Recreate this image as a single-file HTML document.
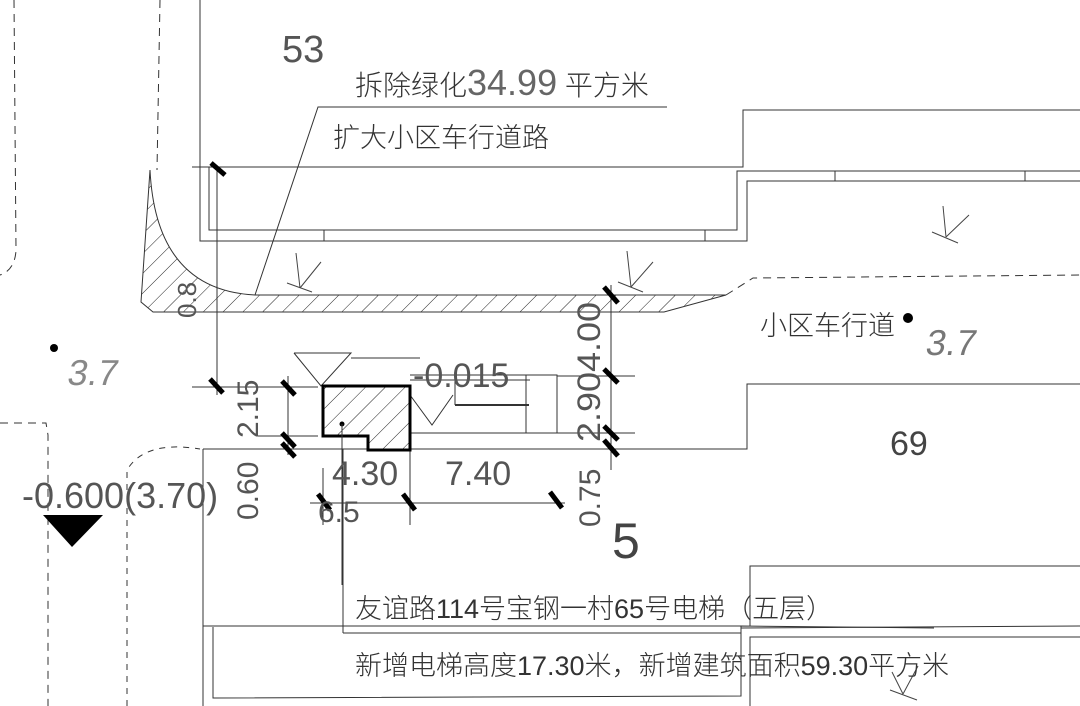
<!DOCTYPE html>
<html><head><meta charset="utf-8"><style>
html,body{margin:0;padding:0;background:#fff;width:1080px;height:706px;overflow:hidden}
svg text{font-family:"Liberation Sans","Noto Sans CJK SC",sans-serif;}
</style></head><body>
<svg width="1080" height="706" viewBox="0 0 1080 706" xmlns="http://www.w3.org/2000/svg">
<defs>
<pattern id="h" width="14" height="14" patternUnits="userSpaceOnUse" patternTransform="rotate(45)">
<line x1="0" y1="0" x2="0" y2="14" stroke="#222" stroke-width="1"/>
</pattern>
</defs>
<g fill="none" stroke="#333" stroke-width="1">
<!-- top building -->
<polyline points="200,0 200,241 747,241 747,181 1080,181"/>
<polyline points="209,167 209,230 737,230 737,171 1080,171"/>
<polyline points="192,167 743,167 743,110 1080,110"/>
<line x1="324" y1="230" x2="324" y2="241"/><line x1="705" y1="230" x2="705" y2="241"/>
<line x1="835" y1="171" x2="835" y2="181"/><line x1="1025" y1="171" x2="1025" y2="181"/>
<!-- leader -->
<polyline points="255,295 318,107 667,107"/>
<!-- curb -->
<path d="M150,170 Q156,290 255,295 L726,295 L664,312 L153,312 L141,302 L150,170 Z" fill="url(#h)"/>
<line x1="217" y1="167" x2="217" y2="395"/>
<!-- dashed lines -->
<path d="M160,0 L157,170" stroke-dasharray="8,6"/>
<path d="M14,0 L16,250 Q15,270 0,275" stroke-dasharray="8,6"/>
<path d="M726,295 L753,278 L1080,275" stroke-dasharray="8,6"/>
<path d="M0,423 L46,423 L48,435 L48,706" stroke-dasharray="8,6"/>
<path d="M127,706 L127,470 Q145,440 200,449" stroke-dasharray="6,6"/>
<!-- dimensions left -->
<line x1="192" y1="387" x2="318" y2="387"/><line x1="258" y1="436" x2="318" y2="436"/>
<line x1="288" y1="376" x2="288" y2="455"/>
<line x1="203" y1="449" x2="611" y2="449"/>
<polyline points="611,449 747,449 747,384 1080,384"/>
<polyline points="203,449 203,706"/>
<!-- triangle marker -->
<polyline points="294,353 351,353 321,386 294,353"/>
<line x1="351" y1="358" x2="420" y2="358"/>
<!-- right part of elevator -->
<polyline points="410,375 557,375 557,433 410,433"/>
<line x1="455" y1="375" x2="455" y2="405"/>
<line x1="526" y1="375" x2="526" y2="433"/>
<line x1="410" y1="380" x2="530" y2="380"/>
<polyline points="410,395 432,425 453,395"/>
<!-- right dim -->
<line x1="611" y1="285" x2="611" y2="470"/>
<line x1="557" y1="376" x2="635" y2="376"/><line x1="557" y1="433" x2="635" y2="433"/>
<!-- bottom dims -->
<line x1="310" y1="503" x2="565" y2="503"/>
<line x1="323" y1="468" x2="323" y2="525"/><line x1="410" y1="437" x2="410" y2="525"/>
<!-- lower building -->
<line x1="343" y1="449" x2="343" y2="633"/>
<polyline points="203,626 741,626"/>
<polyline points="343,633 741,633"/>
<polyline points="213,627 213,698 741,696 741,626 934,628"/>
<polyline points="750,706 750,637 1080,637"/>
<polyline points="750,626 750,566 1080,566"/>
<line x1="741" y1="628" x2="1080" y2="626"/>
<!-- grass marks -->
<g stroke="#444">
<path d="M287,283 L312,292 M300,288 L296,253 M300,288 L321,262"/>
<path d="M618,282 L643,292 M631,287 L627,251 M631,287 L653,262"/>
<path d="M932,232 L958,243 M946,237 L943,206 M946,237 L969,215"/>
<path d="M890,690 L917,700 M903,694 L892,672 M903,694 L918,666"/>
</g>
</g>
<!-- elevator -->
<polygon points="323,386 410,386 410,450 368,450 368,436 323,436" fill="url(#h)" stroke="#000" stroke-width="3"/>
<line x1="455" y1="405" x2="529" y2="405" stroke="#333" stroke-width="2"/>
<circle cx="342" cy="424" r="2.5" fill="#000"/>
<line x1="342" y1="424" x2="342" y2="585" stroke="#333"/>
<!-- ticks -->
<g stroke="#000" stroke-width="5">
<line x1="211" y1="163" x2="225" y2="175"/>
<line x1="210" y1="379" x2="223" y2="393"/>
<line x1="282" y1="381" x2="295" y2="395"/>
<line x1="282" y1="433" x2="295" y2="447"/>
<line x1="282" y1="443" x2="295" y2="457"/>
<line x1="604" y1="287" x2="618" y2="303"/>
<line x1="604" y1="369" x2="618" y2="383"/>
<line x1="604" y1="426" x2="618" y2="440"/>
<line x1="604" y1="440" x2="618" y2="456"/>
<line x1="318" y1="494" x2="330" y2="510"/>
<line x1="403" y1="494" x2="415" y2="510"/>
<line x1="550" y1="492" x2="562" y2="508"/>
</g>
<!-- markers -->
<circle cx="54" cy="348" r="4" fill="#000"/>
<circle cx="908" cy="318" r="5" fill="#000"/>
<polygon points="43,515 103,515 72,547" fill="#000"/>
<!-- texts -->
<g fill="#555" font-weight="300">
<text x="282" y="62" font-size="38">53</text>
<text x="355" y="95" font-size="28" fill="#333">拆除绿化<tspan font-size="36" fill="#666">34.99</tspan> 平方米</text>
<text x="333" y="147" font-size="27" fill="#333">扩大小区车行道路</text>
<text x="760" y="335" font-size="27" fill="#333">小区车行道</text>
<text x="925" y="355" font-size="36" fill="#777" transform="skewX(-10) translate(62,0)">3.7</text>
<text x="68" y="385" font-size="36" fill="#888" transform="skewX(-10) translate(66,0)">3.7</text>
<text x="413" y="387" font-size="34">-0.015</text>
<text x="332" y="485" font-size="34">4.30</text>
<text x="445" y="485" font-size="34">7.40</text>
<text x="318" y="522" font-size="30">6.5</text>
<text x="612" y="558" font-size="50" fill="#444">5</text>
<text x="890" y="455" font-size="34" fill="#444">69</text>
<text x="22" y="508" font-size="36">-0.600(3.70)</text>
<text x="355" y="618" font-size="27" fill="#333">友谊路114号宝钢一村65号电梯（五层）</text>
<text x="355" y="675" font-size="27" fill="#333">新增电梯高度17.30米，新增建筑面积59.30平方米</text>
<text transform="translate(600,442) rotate(-90)" font-size="32" textLength="140" lengthAdjust="spacingAndGlyphs">2.904.00</text>
<text transform="translate(600,527) rotate(-90)" font-size="30">0.75</text>
<text transform="translate(258,438) rotate(-90)" font-size="30">2.15</text>
<text transform="translate(258,520) rotate(-90)" font-size="30">0.60</text>
<text transform="translate(196,318) rotate(-90)" font-size="26">0.8</text>
</g>
</svg>
</body></html>
